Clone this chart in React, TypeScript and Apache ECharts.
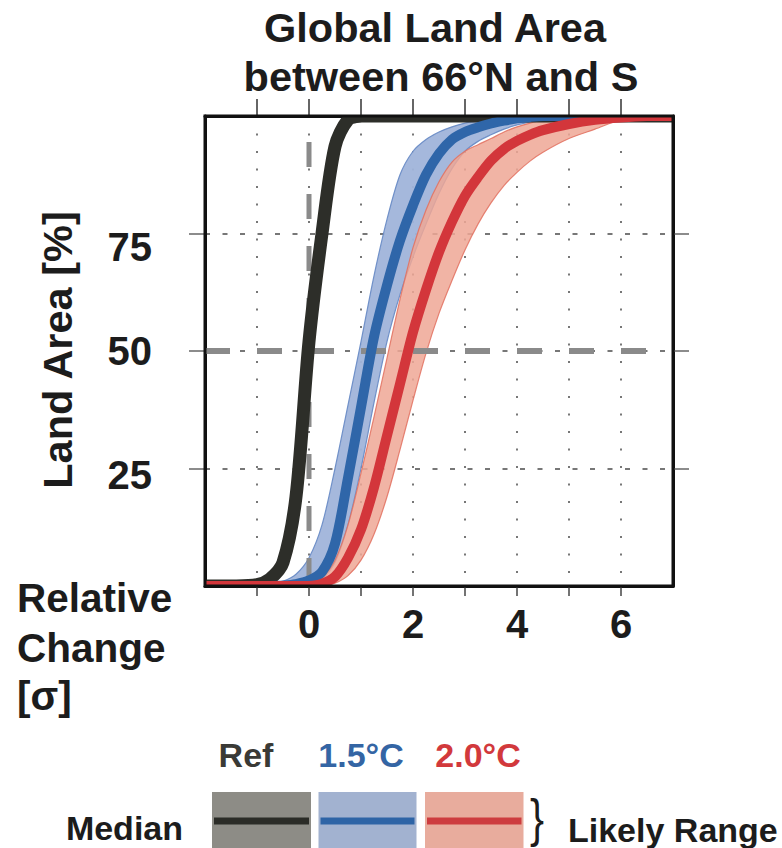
import React, { useEffect, useRef } from 'react';
import * as echarts from 'echarts';

// ---- data ----
const xs = [-2, -1.5, -1, -0.75, -0.5, -0.25, 0, 0.25, 0.5, 0.75, 1, 1.25, 1.5, 1.75, 2, 2.25, 2.5, 2.75, 3, 3.25, 3.5, 3.75, 4, 4.25, 4.5, 5, 5.5, 6, 6.5, 7];

const refMedian = [0, 0, 0.3, 1.5, 5, 19, 52, 75, 93.5, 99.2, 100, 100, 100, 100, 100, 100, 100, 100, 100, 100, 100, 100, 100, 100, 100, 100, 100, 100, 100, 100];

const blueMedian = [0, 0, 0, 0, 0.1, 0.4, 1.2, 3, 9, 23, 38, 53, 64, 73.5, 81, 87.5, 92, 95, 96.6, 97.6, 98.4, 99, 99.5, 99.8, 100, 100, 100, 100, 100, 100];
const blueUpper = [0, 0, 0, 0.3, 1, 2.5, 6, 13, 25, 38.5, 52, 66, 78, 87.5, 92.5, 95, 96.6, 97.7, 98.5, 99, 99.4, 99.7, 99.9, 100, 100, 100, 100, 100, 100, 100];
const blueLower = [0, 0, 0, 0, 0, 0, 0.3, 1.5, 5, 13, 25, 39, 52, 62, 70, 77, 83.5, 88.8, 92.5, 94.6, 96, 97.2, 98.1, 98.7, 99.2, 99.7, 100, 100, 100, 100];

const redMedian = [0, 0, 0, 0, 0, 0, 0, 0.5, 2, 6, 12, 21, 32, 43, 54, 63, 71, 77.5, 83, 87, 90.5, 93, 94.7, 96, 97, 98.3, 99.2, 99.7, 100, 100];
const redUpper = [0, 0, 0, 0, 0, 0, 0.4, 1.8, 5.5, 13, 24, 36, 48.5, 61, 72, 80, 86, 90.2, 92.5, 93.9, 95.2, 96.6, 97.7, 98.5, 99.1, 99.7, 100, 100, 100, 100];
const redLower = [0, 0, 0, 0, 0, 0, 0, 0, 0.6, 2.2, 5.5, 11, 19, 29, 39.5, 49.5, 58, 65, 71.5, 77, 81.5, 85.2, 88, 90.4, 92.3, 95.2, 97.2, 99.2, 99.8, 100];

const xTickValues = [-1, 0, 1, 2, 3, 4, 5, 6];
const xLabelValues = [0, 2, 4, 6];
const yTickValues = [25, 50, 75];
const xRange = [-2, 7];
const yRange = [0, 100];
const refLineX = 0;
const refLineY = 50;

const titleLines = ['Global Land Area', 'between 66°N and S'];
const yName = 'Land Area [%]';
const xNameLines = ['Relative', 'Change', '[σ]'];
const legendCols = ['Ref', '1.5°C', '2.0°C'];

const FONT = '"Liberation Sans", Arial, Helvetica, sans-serif';
const TXT = '#1c1c1c';

const GRID = { left: 205, top: 116, width: 468, height: 470 };

function constraint(api: any) {
  const a = api.coord([xRange[0], yRange[1]]);
  const b = api.coord([xRange[1], yRange[0]]);
  return [[Math.min(a[0], b[0]), Math.min(a[1], b[1])], [Math.max(a[0], b[0]), Math.max(a[1], b[1])]];
}

function bandSeries(upper: number[], lower: number[], fill: string, stroke: string, opacity: number, z: number) {
  return {
    type: 'custom',
    clip: true,
    silent: true,
    z,
    data: [[0, 50]],
    renderItem: (_p: any, api: any) => {
      const top = xs.map((x, i) => api.coord([x, upper[i]]));
      const bottom: number[][] = [];
      for (let i = xs.length - 2; i >= 1; i--) bottom.push(api.coord([xs[i], lower[i]]));
      return {
        type: 'polygon',
        shape: { points: top.concat(bottom), smooth: 0.3, smoothConstraint: constraint(api) },
        style: { fill, stroke, lineWidth: 1.2, opacity },
      };
    },
  };
}

function curveSeries(ys: number[], color: string, width: number, z: number) {
  return {
    type: 'custom',
    clip: true,
    silent: true,
    z,
    data: [[0, 50]],
    renderItem: (_p: any, api: any) => ({
      type: 'polyline',
      shape: { points: xs.map((x, i) => api.coord([x, ys[i]])), smooth: 0.3, smoothConstraint: constraint(api) },
      style: { fill: 'none', stroke: color, lineWidth: width, lineJoin: 'round' },
    }),
  };
}

function dashSeries(pts: number[][], width: number, offset: number, z: number) {
  return {
    type: 'custom',
    clip: true,
    silent: true,
    z,
    data: [[0, 50]],
    renderItem: (_p: any, api: any) => ({
      type: 'polyline',
      shape: { points: pts.map((p) => api.coord(p)) },
      style: { fill: 'none', stroke: '#8a8a8a', lineWidth: width, lineDash: [25, 27], lineDashOffset: offset },
    }),
  };
}

const labelFont = { fontSize: 40, fontWeight: 'bold', fontFamily: FONT, color: TXT };

function txt(text: string, x: number, y: number, size: number, align: string, color = TXT, extra: any = {}) {
  return {
    type: 'text',
    x,
    y,
    z: 30,
    silent: true,
    ...extra,
    style: { text, fill: color, fontSize: size, fontWeight: 'bold', fontFamily: FONT, align, verticalAlign: 'middle' },
  };
}

const legendBoxes = [
  { x: 212, w: 99, fill: '#8d8c86', line: '#2b2c27', text: '#3a3a36', cx: 246 },
  { x: 318.5, w: 98, fill: '#a2b2d0', line: '#2e64a6', text: '#3465a4', cx: 361 },
  { x: 425, w: 98.5, fill: '#e8ac9d', line: '#cd3c3f', text: '#d2393c', cx: 478 },
];

const graphics: any[] = [
  txt(titleLines[0], 435, 27, 41.5, 'center'),
  txt(titleLines[1], 441, 76, 41.5, 'center'),
  txt(yName, 57, 350, 41.5, 'center', TXT, { rotation: Math.PI / 2 }),
  txt(xNameLines[0], 17, 598, 40.5, 'left'),
  txt(xNameLines[1], 17, 648, 40.5, 'left'),
  txt(xNameLines[2], 17, 696, 40.5, 'left'),
  {
    type: 'rect',
    z: 25,
    silent: true,
    shape: { x: GRID.left, y: GRID.top, width: GRID.width, height: GRID.height },
    style: { fill: 'none', stroke: '#111', lineWidth: 3 },
  },
];
legendBoxes.forEach((b, i) => {
  graphics.push(txt(legendCols[i], b.cx, 755, 34, 'center', b.text));
  graphics.push({ type: 'rect', z: 20, silent: true, shape: { x: b.x, y: 792, width: b.w, height: 60 }, style: { fill: b.fill } });
  graphics.push({ type: 'line', z: 21, silent: true, shape: { x1: b.x + 2, y1: 821, x2: b.x + b.w - 2, y2: 821 }, style: { stroke: b.line, lineWidth: 7 } });
});
graphics.push(txt('Median', 183, 828, 34, 'right'));
graphics.push({
  type: 'text', x: 537, y: 819, z: 30, silent: true, scaleY: 1.22,
  style: { text: '}', fill: TXT, fontSize: 42, fontWeight: 'normal', fontFamily: FONT, align: 'center', verticalAlign: 'middle' },
});
graphics.push(txt('Likely Range', 568, 830, 34, 'left'));

const axisLineStyle = { show: true, onZero: false, lineStyle: { color: '#111', width: 3 } };

const option: any = {
  animation: false,
  backgroundColor: '#ffffff',
  grid: { ...GRID, containLabel: false, outerBoundsMode: 'none' },
  xAxis: [
    {
      type: 'value', position: 'bottom', min: xRange[0], max: xRange[1], interval: 1,
      axisLine: axisLineStyle,
      axisTick: { show: true, customValues: xTickValues, length: 10, lineStyle: { color: '#444', width: 1.5 } },
      axisLabel: { show: true, customValues: xLabelValues, margin: 18, ...labelFont },
      splitLine: { show: true, lineStyle: { color: '#777', width: 2, type: [2, 15.5] } },
    },
    {
      type: 'value', position: 'top', min: xRange[0], max: xRange[1], interval: 1,
      axisLine: axisLineStyle,
      axisTick: { show: true, customValues: xTickValues, length: 17, lineStyle: { color: '#333', width: 1.5 } },
      axisLabel: { show: false },
      splitLine: { show: false },
    },
  ],
  yAxis: [
    {
      type: 'value', position: 'left', min: yRange[0], max: yRange[1], interval: 25,
      axisLine: axisLineStyle,
      axisTick: { show: true, customValues: yTickValues, length: 16, lineStyle: { color: '#666', width: 1.5 } },
      axisLabel: {
        show: true, customValues: yTickValues, margin: 53, ...labelFont,
        formatter: (v: number) => (v === 75 ? '{a|75}' : v === 25 ? '{b|25}' : '{c|' + v + '}'),
        rich: {
          a: { ...labelFont, padding: [26, 0, 0, 0] },
          b: { ...labelFont, padding: [13, 0, 0, 0] },
          c: { ...labelFont },
        },
      },
      splitLine: { show: true, lineStyle: { color: '#777', width: 2, type: [5, 12.5] } },
    },
    {
      type: 'value', position: 'right', min: yRange[0], max: yRange[1], interval: 25,
      axisLine: axisLineStyle,
      axisTick: { show: true, customValues: yTickValues, length: 16, lineStyle: { color: '#666', width: 1.5 } },
      axisLabel: { show: false },
      splitLine: { show: false },
    },
  ],
  series: [
    bandSeries(blueUpper, blueLower, '#a0b4da', '#6a8cc6', 0.95, 2),
    bandSeries(redUpper, redLower, '#efa795', '#e2705f', 0.85, 3),
    dashSeries([[xRange[0], refLineY], [xRange[1], refLineY]], 6, 0, 4),
    dashSeries([[refLineX, yRange[1]], [refLineX, yRange[0]]], 5, 26, 4),
    curveSeries(refMedian, '#2d2e29', 13, 5),
    curveSeries(blueMedian, '#2f66a9', 10, 6),
    curveSeries(redMedian, '#d3363b', 10, 7),
  ],
  graphic: { elements: graphics },
};

export default function App() {
  const ref = useRef<HTMLDivElement>(null);
  useEffect(() => {
    document.body.style.margin = '0';
    const chart = echarts.init(ref.current as HTMLDivElement, null, { renderer: 'svg' });
    chart.setOption(option);
    return () => chart.dispose();
  }, []);
  return <div ref={ref} style={{ position: 'absolute', left: 0, top: 0, width: 782, height: 848 }} />;
}
